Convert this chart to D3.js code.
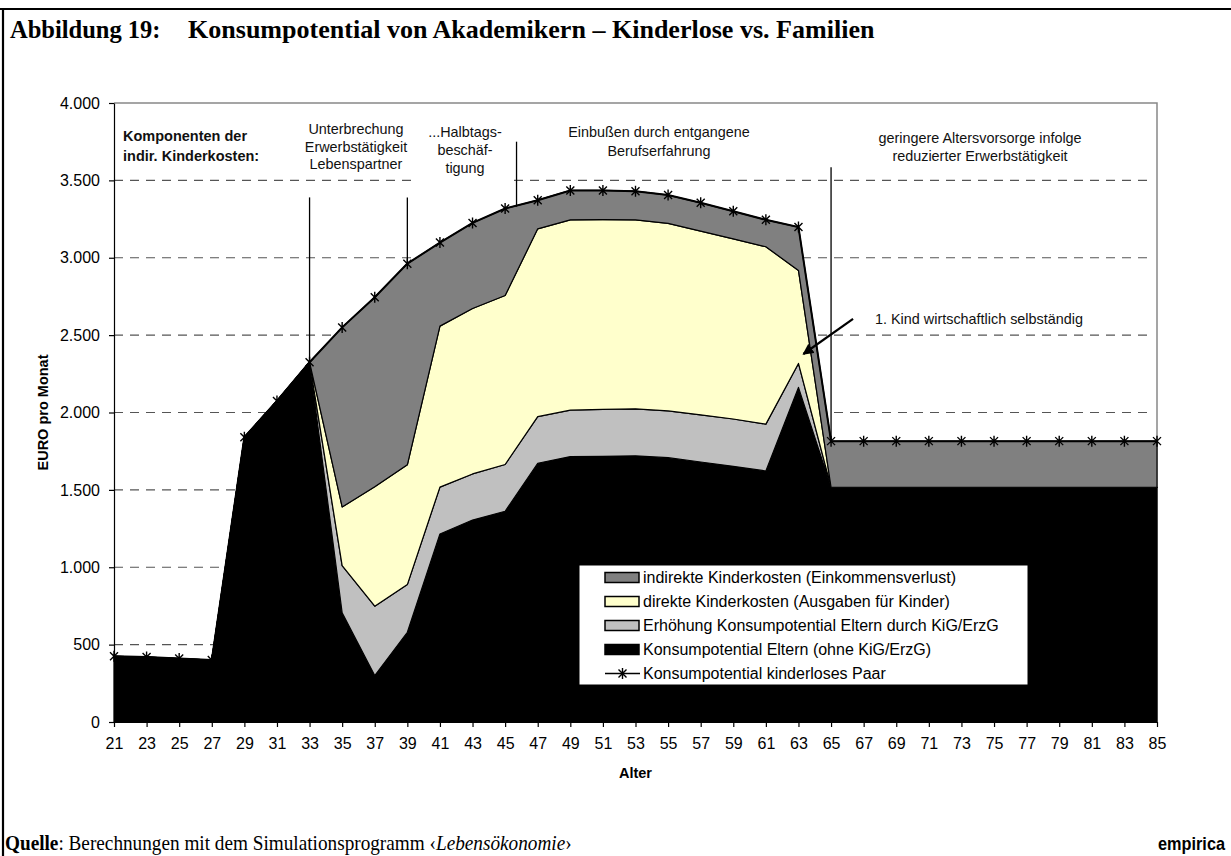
<!DOCTYPE html>
<html lang="de">
<head>
<meta charset="utf-8">
<script src="https://cdn.jsdelivr.net/npm/d3@7"></script>
<style>
  body { margin: 0; background: #fff; }
  svg { display: block; font-family: "Liberation Sans", Arial, sans-serif; }
</style>
</head>
<body>
<svg id="chart" width="1231" height="856"></svg>
<script>
// Alter (x-Achse)
const AGES = d3.range(21, 86, 2);

// Konsumpotential Eltern (ohne KiG/ErzG)
const ELTERN = [425, 420, 410, 400, 1840, 2075, 2325, 705, 300, 580, 1215, 1305, 1362, 1672, 1715, 1717,
  1720, 1708, 1680, 1652, 1622, 2162, 1517, 1517, 1517, 1517, 1517, 1517, 1517, 1517, 1517, 1517, 1517];
// Erhöhung Konsumpotential Eltern durch KiG/ErzG
const ERHOEHUNG = [0, 0, 0, 0, 0, 0, 0, 305, 448, 308, 303, 298, 302, 301, 300, 303,
  304, 302, 305, 306, 303, 155, 0, 0, 0, 0, 0, 0, 0, 0, 0, 0, 0];
// direkte Kinderkosten (Ausgaben für Kinder)
const DIREKT = [0, 0, 0, 0, 0, 0, 0, 380, 772, 774, 1040, 1069, 1092, 1214, 1230, 1226,
  1221, 1212, 1187, 1164, 1146, 601, 0, 0, 0, 0, 0, 0, 0, 0, 0, 0, 0];
// indirekte Kinderkosten (Einkommensverlust)
const INDIREKT = [0, 0, 0, 0, 0, 0, 0, 1160, 1225, 1300, 540, 553, 562, 185, 190, 189,
  185, 183, 183, 178, 174, 280, 298, 298, 298, 298, 298, 298, 298, 298, 298, 298, 298];
// Konsumpotential kinderloses Paar
const KINDERLOS = [425, 420, 410, 400, 1840, 2075, 2325, 2550, 2745, 2962, 3098, 3225, 3318, 3372, 3435, 3435,
  3430, 3405, 3355, 3300, 3245, 3198, 1815, 1815, 1815, 1815, 1815, 1815, 1815, 1815, 1815, 1815, 1815];

const Y_TICKS = [0, 500, 1000, 1500, 2000, 2500, 3000, 3500, 4000];

const SERIES = [
  { key: "eltern", label: "Konsumpotential Eltern (ohne KiG/ErzG)", color: "#000000", values: ELTERN },
  { key: "erhoehung", label: "Erhöhung Konsumpotential Eltern durch KiG/ErzG", color: "#c0c0c0", values: ERHOEHUNG },
  { key: "direkt", label: "direkte Kinderkosten (Ausgaben für Kinder)", color: "#ffffcc", values: DIREKT },
  { key: "indirekt", label: "indirekte Kinderkosten (Einkommensverlust)", color: "#808080", values: INDIREKT }
];
const LINE_LABEL = "Konsumpotential kinderloses Paar";

const table = AGES.map((age, i) => {
  const row = { age: age };
  SERIES.forEach(s => row[s.key] = s.values[i]);
  return row;
});

const svg = d3.select("#chart");
const plot = { left: 114, right: 1157, top: 103, bottom: 722 };

const x = d3.scaleLinear().domain([21, 85]).range([plot.left, plot.right]);
const y = d3.scaleLinear().domain([0, 4000]).range([plot.bottom, plot.top]);

// squeeze / stretch a text node horizontally to a target width
const fitWidth = (sel, anchorX, width) => {
  const w = sel.node().getComputedTextLength();
  sel.attr("transform", `translate(${anchorX},0) scale(${width / w},1) translate(${-anchorX},0)`);
};

// Rahmen
svg.append("line").attr("x1", 0).attr("x2", 1231).attr("y1", 9).attr("y2", 9)
   .attr("stroke", "#000").attr("stroke-width", 2.2);
svg.append("line").attr("x1", 3).attr("x2", 3).attr("y1", 8).attr("y2", 856)
   .attr("stroke", "#000").attr("stroke-width", 2.2);

// Titel
const title = svg.append("g").attr("font-family", "'Liberation Serif', 'Times New Roman', serif")
   .attr("font-weight", "bold");
title.append("text").attr("x", 10).attr("y", 38).attr("font-size", 24.5).text("Abbildung 19:");
const titleMain = title.append("text").attr("x", 188).attr("y", 38).attr("font-size", 25)
   .text("Konsumpotential von Akademikern – Kinderlose vs. Familien");
fitWidth(titleMain, 188, 687);

// Gitternetz
svg.append("g").selectAll("line")
   .data(Y_TICKS.filter(d => d > 0 && d < 4000))
   .enter().append("line")
   .attr("x1", plot.left).attr("x2", plot.right - 4)
   .attr("y1", d => y(d)).attr("y2", d => y(d))
   .attr("stroke", "#555").attr("stroke-width", 1.1)
   .attr("stroke-dasharray", "9,7");

// Plotrahmen (oben, rechts)
svg.append("path")
   .attr("d", `M${plot.left},${plot.top}H${plot.right}V${plot.bottom}`)
   .attr("fill", "none").attr("stroke", "#888").attr("stroke-width", 1.5);

// Flächen
const stack = d3.stack().keys(SERIES.map(s => s.key));
const layers = stack(table);
const area = d3.area()
   .x(d => x(d.data.age))
   .y0(d => y(d[0]))
   .y1(d => y(d[1]));

svg.append("g").selectAll("path")
   .data(layers)
   .enter().append("path")
   .attr("d", area)
   .attr("fill", (d, i) => SERIES[i].color)
   .attr("stroke", "#000")
   .attr("stroke-width", 1.2)
   .attr("stroke-linejoin", "round");

// Linie kinderloses Paar
const starPath = "M-4,-4L4,4M-4,4L4,-4M0,-5.5L0,5.5";
const line = d3.line().x((d, i) => x(AGES[i])).y(d => y(d));
svg.append("path")
   .attr("d", line(KINDERLOS))
   .attr("fill", "none").attr("stroke", "#000").attr("stroke-width", 2);
svg.append("g").selectAll("path")
   .data(KINDERLOS)
   .enter().append("path")
   .attr("transform", (d, i) => `translate(${x(AGES[i])},${y(d)})`)
   .attr("d", starPath)
   .attr("stroke", "#000").attr("stroke-width", 1.4);

// Achsen
const fmt = d => d3.format(",")(d).replace(/,/g, ".");
const yAxis = svg.append("g")
   .attr("transform", `translate(${plot.left},0)`)
   .call(d3.axisLeft(y).tickValues(Y_TICKS).tickFormat(fmt).tickSize(5).tickPadding(9).tickSizeOuter(0));
const xAxis = svg.append("g")
   .attr("transform", `translate(0,${plot.bottom})`)
   .call(d3.axisBottom(x).tickValues(AGES).tickFormat(d3.format("d")).tickSize(5).tickPadding(11).tickSizeOuter(0));
[yAxis, xAxis].forEach(a => {
  a.selectAll("text").attr("font-size", 16).attr("font-family", "'Liberation Sans', Arial, sans-serif").attr("fill", "#000");
  a.selectAll("line, path").attr("stroke", "#000").attr("stroke-width", 1.2);
});

svg.append("text")
   .attr("x", (plot.left + plot.right) / 2).attr("y", 778)
   .attr("text-anchor", "middle").attr("font-weight", "bold").attr("font-size", 14.5)
   .text("Alter");
svg.append("text")
   .attr("transform", `translate(48,${(plot.top + plot.bottom) / 2}) rotate(-90)`)
   .attr("text-anchor", "middle").attr("font-weight", "bold").attr("font-size", 14.5)
   .text("EURO pro Monat");

// Annotationen
const vLines = [
  { age: 33, top: 3390, idx: 6 },
  { age: 39, top: 3390, idx: 9 },
  { age: 45.7, top: 3750, bottom: 3330 },
  { age: 65, top: 3585, idx: 22 }
];
svg.append("g").selectAll("line")
   .data(vLines)
   .enter().append("line")
   .attr("x1", d => x(d.age)).attr("x2", d => x(d.age))
   .attr("y1", d => y(d.top))
   .attr("y2", d => y(d.idx !== undefined ? KINDERLOS[d.idx] : d.bottom))
   .attr("stroke", "#000").attr("stroke-width", 1.3);

// weißer Hintergrund hinter "Halbtags"
svg.append("rect").attr("x", 414).attr("y", 117).attr("width", 100).attr("height", 68).attr("fill", "#fff");

const notes = [
  { x: 123, y: 141, anchor: "start", bold: true, lines: ["Komponenten der", "indir. Kinderkosten:"], dy: 19.5 },
  { x: 356, y: 134, anchor: "middle", lines: ["Unterbrechung", "Erwerbstätigkeit", "Lebenspartner"], dy: 17.6 },
  { x: 465, y: 137, anchor: "middle", lines: ["...Halbtags-", "beschäf-", "tigung"], dy: 18 },
  { x: 659, y: 137, anchor: "middle", lines: ["Einbußen durch entgangene", "Berufserfahrung"], dy: 18.6 },
  { x: 980, y: 143, anchor: "middle", lines: ["geringere Altersvorsorge infolge", "reduzierter Erwerbstätigkeit"], dy: 18 },
  { x: 875, y: 324, anchor: "start", lines: ["1. Kind wirtschaftlich selbständig"], dy: 0 }
];
notes.forEach(n => {
  const t = svg.append("text")
     .attr("text-anchor", n.anchor)
     .attr("font-size", n.bold ? 14.5 : 14.4)
     .attr("font-weight", n.bold ? "bold" : "normal")
     .attr("fill", "#111");
  t.selectAll("tspan").data(n.lines).enter().append("tspan")
     .attr("x", n.x).attr("y", (d, i) => n.y + i * n.dy).text(d => d);
});

// Pfeil
svg.append("defs").append("marker")
   .attr("id", "arrow").attr("viewBox", "0 0 10 10").attr("refX", 9).attr("refY", 5)
   .attr("markerWidth", 5).attr("markerHeight", 5).attr("orient", "auto")
   .append("path").attr("d", "M0,0L10,5L0,10z").attr("fill", "#000");
svg.append("line")
   .attr("x1", x(66.35)).attr("y1", y(2605))
   .attr("x2", x(63.3)).attr("y2", y(2378))
   .attr("stroke", "#000").attr("stroke-width", 2.2)
   .attr("marker-end", "url(#arrow)");

// Legende
const legend = svg.append("g");
legend.append("rect").attr("x", 579).attr("y", 565).attr("width", 449).attr("height", 120)
   .attr("fill", "#fff").attr("stroke", "#000").attr("stroke-width", 1);
const legendItems = SERIES.slice().reverse().map(s => ({ label: s.label, color: s.color, type: "area" }))
   .concat([{ label: LINE_LABEL, type: "line" }]);
const item = legend.selectAll("g.item").data(legendItems).enter().append("g")
   .attr("class", "item")
   .attr("transform", (d, i) => `translate(605,${577.5 + i * 24})`);
item.filter(d => d.type === "area").append("rect")
   .attr("x", 0).attr("y", -5).attr("width", 34).attr("height", 10)
   .attr("fill", d => d.color).attr("stroke", "#000").attr("stroke-width", 1.5);
const lineItem = item.filter(d => d.type === "line");
lineItem.append("line").attr("x1", 0).attr("x2", 35).attr("y1", 0).attr("y2", 0)
   .attr("stroke", "#000").attr("stroke-width", 1.5);
lineItem.append("path").attr("transform", "translate(17.5,0)").attr("d", starPath)
   .attr("stroke", "#000").attr("stroke-width", 1.4);
item.append("text").attr("x", 38).attr("y", 0).attr("dy", "0.36em")
   .attr("font-size", 16).text(d => d.label);

// Quelle
const src = svg.append("text").attr("x", 5).attr("y", 850)
   .attr("font-family", "'Liberation Serif', 'Times New Roman', serif").attr("font-size", 21);
src.append("tspan").attr("font-weight", "bold").text("Quelle");
src.append("tspan").text(": Berechnungen mit dem Simulationsprogramm ‹");
src.append("tspan").attr("font-style", "italic").text("Lebensökonomie");
src.append("tspan").text("›");
fitWidth(src, 5, 567);

const emp = svg.append("text").attr("x", 1225).attr("y", 850).attr("text-anchor", "end")
   .attr("font-weight", "bold").attr("font-size", 18).text("empirica");
fitWidth(emp, 1225, 67);
</script>
</body>
</html>
